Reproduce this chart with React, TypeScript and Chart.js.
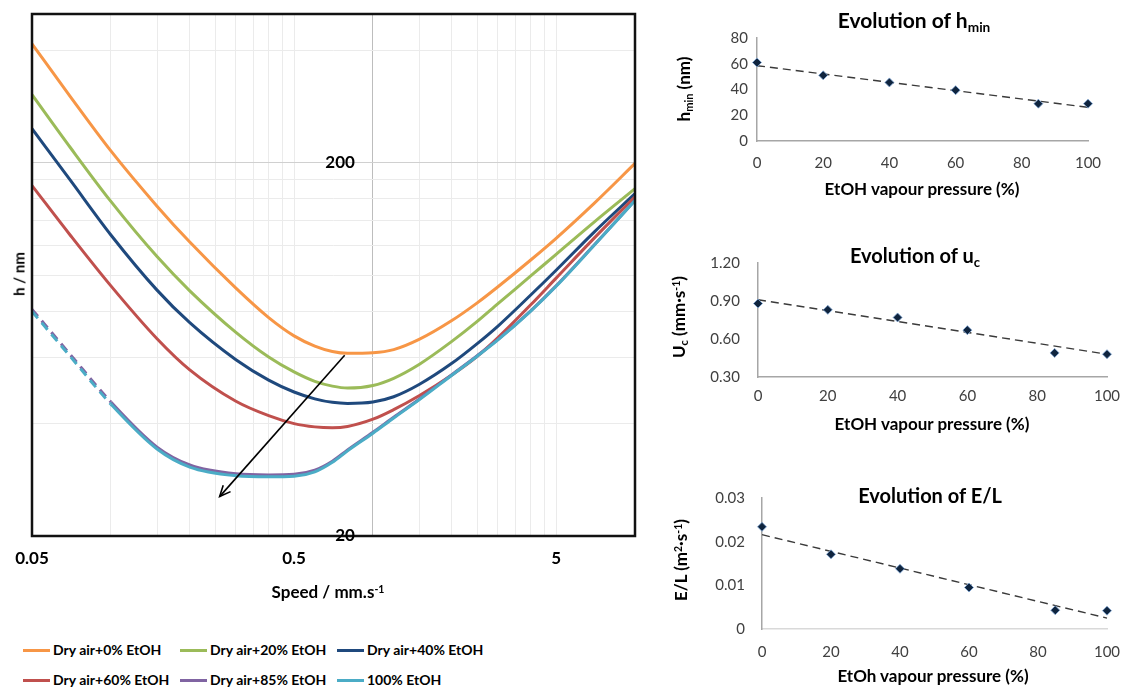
import React, { useEffect, useRef } from 'react';
import { Chart, registerables } from 'chart.js';

Chart.register(...registerables);
Chart.defaults.font.family = 'Lato, "Open Sans", sans-serif';

// ---------- main chart data ----------
const SPEED = [0.05, 0.07, 0.1, 0.15, 0.2, 0.3, 0.4, 0.5, 0.6, 0.7, 0.8, 1, 1.2, 1.5, 2, 2.5, 3, 4, 5, 7, 10];
const H_0 = [416, 300.4, 214.9, 152.9, 122.5, 92.2, 76.9, 68.7, 64.5, 62.4, 61.7, 61.9, 63.1, 67.2, 75.5, 84.2, 93, 109.7, 125.4, 155.8, 199];
const H_20 = [304, 219.5, 157.4, 112, 90.7, 70.2, 60.3, 55, 51.9, 50.4, 49.8, 50.6, 52.9, 57.6, 66.4, 75.1, 83.8, 99.4, 113.6, 138.8, 170.3];
const H_40 = [246.6, 179.4, 128, 91.1, 74.5, 59.3, 52.3, 48.6, 46.6, 45.6, 45.3, 45.7, 47.2, 50.9, 58, 65.5, 73, 88.4, 103, 130.5, 165.2];
const H_60 = [173.6, 127.8, 93.5, 67.5, 55.7, 45.9, 42, 40, 39.2, 39, 39.3, 41.1, 43.6, 47.5, 54, 60.6, 68, 83.2, 98.1, 125.7, 162];
const H_85 = [80.9, 61.2, 45.7, 34.6, 31, 29.35, 29.15, 29.25, 30, 31.7, 34, 37.9, 41.6, 46.5, 54.1, 60.8, 67.2, 80.2, 93.5, 120.5, 158.5];
const H_100 = [79.9, 60.5, 45.1, 34.2, 30.6, 29, 28.8, 28.9, 29.7, 31.5, 33.8, 37.7, 41.4, 46.3, 53.9, 60.6, 67, 80, 93.3, 120.3, 158.3];
const SERIES = [H_0, H_20, H_40, H_60, H_85, H_100];
const SERIES_LABELS = [
  'Dry air+0% EtOH',
  'Dry air+20% EtOH',
  'Dry air+40% EtOH',
  'Dry air+60% EtOH',
  'Dry air+85% EtOH',
  '100% EtOH',
];
const SERIES_DASHED_START = [false, false, false, false, true, true];
const DASH_UNTIL_SPEED = 0.1;

const X_GRID = [0.05, 0.1, 0.15, 0.2, 0.25, 0.3, 0.35, 0.4, 0.45, 0.5, 1, 1.5, 2, 2.5, 3, 3.5, 4, 4.5, 5, 10];
const X_TICK_LABELS = [0.05, 0.5, 5];
const Y_GRID = [20, 40, 60, 80, 100, 120, 140, 160, 180, 200, 400];
const Y_TICK_LABELS = [200, 20];
const Y_MAJOR = 200;
const Y_AXIS_CROSS = 1;
const ARROW_FROM = [0.78, 61];
const ARROW_TO = [0.26, 25.5];

// ---------- inset data ----------
const ETOH = [0, 20, 40, 60, 85, 100];
const HMIN = [61, 51, 45.5, 39.5, 29, 29];
const UC = [0.88, 0.83, 0.77, 0.67, 0.49, 0.48];
const EL = [0.0234, 0.0171, 0.0138, 0.0095, 0.0043, 0.0042];
const TREND_X = [0, 100];
const HMIN_TREND = [58.5, 26.2];
const UC_TREND = [0.91, 0.48];
const EL_TREND = [0.0216, 0.0025];
const PCT_TICKS = [0, 20, 40, 60, 80, 100];
const HMIN_TICKS = [0, 20, 40, 60, 80];
const UC_TICKS = [0.3, 0.6, 0.9, 1.2];
const EL_TICKS = [0, 0.01, 0.02, 0.03];

// ---------- styles ----------
const COLORS = ['#F79646', '#9BBB59', '#1F497D', '#C0504D', '#8064A2', '#4BACC6'];

const mainDecor = {
  id: 'mainDecor',
  afterDraw(chart: any) {
    const { ctx, chartArea: a, scales } = chart;
    const x = scales.x, y = scales.y;
    ctx.save();
    ctx.setLineDash([]);
    // arrow
    const x0 = x.getPixelForValue(ARROW_FROM[0]);
    const y0 = y.getPixelForValue(ARROW_FROM[1]);
    const x1 = x.getPixelForValue(ARROW_TO[0]);
    const y1 = y.getPixelForValue(ARROW_TO[1]);
    ctx.strokeStyle = '#000';
    ctx.lineWidth = 1.6;
    ctx.beginPath();
    ctx.moveTo(x0, y0);
    ctx.lineTo(x1, y1);
    ctx.stroke();
    const ang = Math.atan2(y1 - y0, x1 - x0);
    const L = 12, w = 0.42;
    ctx.beginPath();
    ctx.moveTo(x1 - L * Math.cos(ang - w), y1 - L * Math.sin(ang - w));
    ctx.lineTo(x1, y1);
    ctx.lineTo(x1 - L * Math.cos(ang + w), y1 - L * Math.sin(ang + w));
    ctx.stroke();
    // frame
    ctx.strokeStyle = '#111';
    ctx.lineWidth = 2.5;
    ctx.beginPath();
    ctx.rect(a.left, a.top, a.right - a.left, a.bottom - a.top);
    ctx.stroke();
    // y tick labels at the axis crossing
    ctx.fillStyle = '#000';
    ctx.font = 'bold 17px Lato';
    ctx.textAlign = 'right';
    ctx.textBaseline = 'middle';
    const lx = x.getPixelForValue(Y_AXIS_CROSS) - 18;
    Y_TICK_LABELS.forEach((v) => ctx.fillText(String(v), lx, y.getPixelForValue(v)));
    ctx.restore();
  },
};

function MainChart() {
  const ref = useRef<HTMLCanvasElement>(null);
  useEffect(() => {
    const datasets = SERIES.map((vals, i) => ({
      label: SERIES_LABELS[i],
      data: SPEED.map((s, j) => ({ x: s, y: vals[j] })),
      borderColor: COLORS[i],
      backgroundColor: COLORS[i],
      borderWidth: 3,
      pointRadius: 0,
      cubicInterpolationMode: 'monotone' as const,
      order: SERIES.length - i,
      segment: SERIES_DASHED_START[i]
        ? { borderDash: (c: any) => (c.p1.parsed.x <= DASH_UNTIL_SPEED + 1e-9 ? [9, 6] : undefined) }
        : undefined,
    }));
    const chart = new Chart(ref.current!, {
      type: 'line',
      data: { datasets },
      plugins: [mainDecor],
      options: {
        animation: false,
        responsive: false,
        layout: { padding: { top: 14, right: 5, left: 0, bottom: 0 } },
        plugins: { legend: { display: false }, tooltip: { enabled: false } },
        scales: {
          x: {
            type: 'logarithmic',
            min: 0.05,
            max: 10,
            afterBuildTicks: (s: any) => {
              s.ticks = X_GRID.map((v) => ({ value: v }));
            },
            afterFit: (s: any) => {
              s.height = 74;
            },
            grid: {
              drawTicks: true,
              tickLength: 12,
              tickColor: 'rgba(0,0,0,0)',
              color: (c: any) => (c.tick && c.tick.value === Y_AXIS_CROSS ? '#bdbdbd' : '#ebebeb'),
              lineWidth: 1,
            },
            border: { display: false },
            ticks: {
              autoSkip: false,
              maxRotation: 0,
              padding: 0,
              color: '#000',
              font: { size: 17, weight: 'bold' },
              callback: (v: any) => (X_TICK_LABELS.includes(Number(v)) ? String(v) : ''),
            },
          },
          y: {
            type: 'logarithmic',
            min: 20,
            max: 500,
            afterBuildTicks: (s: any) => {
              s.ticks = Y_GRID.map((v) => ({ value: v }));
            },
            afterFit: (s: any) => {
              s.width = 32;
            },
            grid: {
              drawTicks: false,
              color: (c: any) => (c.tick && c.tick.value === Y_MAJOR ? '#d0d0d0' : '#ebebeb'),
            },
            border: { display: false },
            ticks: { display: false },
          },
        },
      },
    } as any);
    return () => chart.destroy();
  }, []);
  return <canvas ref={ref} width={640} height={610} style={{ position: 'absolute', left: 0, top: 0, width: 640, height: 610 }} />;
}

type SmallCfg = {
  top: number;
  height: number;
  padTop: number;
  yWidth: number;
  padRight: number;
  xHeight: number;
  values: number[];
  trend: number[];
  yTicks: number[];
  fmt: (v: number) => string;
  yPad: number;
  xPad: number;
  xBorder: string;
};

const SMALL: SmallCfg[] = [
  { top: 0, height: 205, padTop: 38, yWidth: 117, padRight: 35, xHeight: 64, values: HMIN, trend: HMIN_TREND, yTicks: HMIN_TICKS, fmt: (v) => String(v), yPad: 9, xPad: 13, xBorder: '#a6a6a6' },
  { top: 230, height: 215, padTop: 33, yWidth: 118, padRight: 16, xHeight: 68, values: UC, trend: UC_TREND, yTicks: UC_TICKS, fmt: (v) => v.toFixed(2), yPad: 18, xPad: 10, xBorder: '#a6a6a6' },
  { top: 470, height: 219, padTop: 28, yWidth: 122, padRight: 16, xHeight: 60, values: EL, trend: EL_TREND, yTicks: EL_TICKS, fmt: (v) => (v === 0 ? '0' : v.toFixed(2)), yPad: 17, xPad: 14, xBorder: '#d9d9d9' },
];

function SmallChart({ cfg }: { cfg: SmallCfg }) {
  const ref = useRef<HTMLCanvasElement>(null);
  useEffect(() => {
    const yMin = cfg.yTicks[0];
    const yMax = cfg.yTicks[cfg.yTicks.length - 1];
    const chart = new Chart(ref.current!, {
      type: 'scatter',
      data: {
        datasets: [
          {
            data: ETOH.map((x, i) => ({ x, y: cfg.values[i] })),
            pointStyle: 'rectRot',
            pointRadius: 4.5,
            backgroundColor: '#0F243E',
            borderColor: '#7FA6D6',
            borderWidth: 0.8,
            clip: false,
            order: 1,
          },
          {
            data: TREND_X.map((x, i) => ({ x, y: cfg.trend[i] })),
            showLine: true,
            borderColor: '#3a3a3a',
            borderWidth: 1.4,
            borderDash: [8, 5],
            pointRadius: 0,
            clip: false,
            order: 2,
          },
        ],
      },
      options: {
        animation: false,
        responsive: false,
        layout: { padding: { top: cfg.padTop, right: cfg.padRight, left: 0, bottom: 0 } },
        plugins: { legend: { display: false }, tooltip: { enabled: false } },
        scales: {
          x: {
            type: 'linear',
            min: 0,
            max: 100,
            afterBuildTicks: (s: any) => {
              s.ticks = PCT_TICKS.map((v) => ({ value: v }));
            },
            afterFit: (s: any) => {
              s.height = cfg.xHeight;
            },
            grid: { display: false, drawTicks: true, tickLength: cfg.xPad, tickColor: 'rgba(0,0,0,0)' },
            border: { display: true, color: cfg.xBorder, width: 1.5 },
            ticks: { padding: 0, color: '#404040', font: { size: 15 }, maxRotation: 0, autoSkip: false },
          },
          y: {
            type: 'linear',
            min: yMin,
            max: yMax,
            afterBuildTicks: (s: any) => {
              s.ticks = cfg.yTicks.map((v) => ({ value: v }));
            },
            afterFit: (s: any) => {
              s.width = cfg.yWidth;
            },
            grid: { display: false, drawTicks: false },
            border: { display: true, color: '#a6a6a6', width: 1.5 },
            ticks: { padding: cfg.yPad, color: '#404040', font: { size: 15 }, callback: (v: any) => cfg.fmt(Number(v)) },
          },
        },
      },
    } as any);
    return () => chart.destroy();
  }, [cfg]);
  return (
    <canvas
      ref={ref}
      width={483}
      height={cfg.height}
      style={{ position: 'absolute', left: 640, top: cfg.top, width: 483, height: cfg.height }}
    />
  );
}

const Sub = ({ children }: { children: React.ReactNode }) => (
  <span style={{ fontSize: '0.65em', position: 'relative', top: '0.3em' }}>{children}</span>
);
const Sup = ({ children }: { children: React.ReactNode }) => (
  <span style={{ fontSize: '0.62em', position: 'relative', top: '-0.45em' }}>{children}</span>
);

function Lbl({ x, y, size, rotate, children }: { x: number; y: number; size: number; rotate?: boolean; children: React.ReactNode }) {
  return (
    <div
      style={{
        position: 'absolute',
        left: x,
        top: y,
        transform: `translate(-50%, -50%)${rotate ? ' rotate(-90deg)' : ''}`,
        fontSize: size,
        fontWeight: 700,
        whiteSpace: 'nowrap',
        lineHeight: 1,
        color: '#000',
      }}
    >
      {children}
    </div>
  );
}

const LEGEND_COLS = [23, 180, 337];
const LEGEND_ROWS = [650, 680];

export default function App() {
  return (
    <div
      style={{
        position: 'fixed',
        left: 0,
        top: 0,
        width: 1123,
        height: 689,
        background: '#fff',
        overflow: 'hidden',
        fontFamily: 'Lato, "Open Sans", sans-serif',
      }}
    >
      <MainChart />
      {SMALL.map((c, i) => (
        <SmallChart key={i} cfg={c} />
      ))}

      {/* main chart texts */}
      <Lbl x={19} y={274} size={15} rotate>
        h / nm
      </Lbl>
      <Lbl x={328} y={591} size={17}>
        Speed / mm.s<Sup>-1</Sup>
      </Lbl>

      {/* legend */}
      {SERIES_LABELS.map((lab, i) => (
        <div
          key={lab}
          style={{
            position: 'absolute',
            left: LEGEND_COLS[i % 3],
            top: LEGEND_ROWS[Math.floor(i / 3)],
            transform: 'translateY(-50%)',
            display: 'flex',
            alignItems: 'center',
            whiteSpace: 'nowrap',
          }}
        >
          <span style={{ display: 'inline-block', width: 27, height: 3, background: COLORS[i] }} />
          <span style={{ marginLeft: 3, fontSize: 14, fontWeight: 700, color: '#000', lineHeight: 1 }}>{lab}</span>
        </div>
      ))}

      {/* inset 1 */}
      <Lbl x={914} y={20} size={21}>
        Evolution of h<Sub>min</Sub>
      </Lbl>
      <Lbl x={683} y={89} size={17} rotate>
        h<Sub>min</Sub> (nm)
      </Lbl>
      <Lbl x={922} y={188} size={17}>
        EtOH vapour pressure (%)
      </Lbl>

      {/* inset 2 */}
      <Lbl x={915} y={255} size={20}>
        Evolution of u<Sub>c</Sub>
      </Lbl>
      <Lbl x={678} y={317} size={17} rotate>
        U<Sub>c</Sub> (mm·s<Sup>-1</Sup>)
      </Lbl>
      <Lbl x={932} y={423} size={17}>
        EtOH vapour pressure (%)
      </Lbl>

      {/* inset 3 */}
      <Lbl x={930} y={495} size={20}>
        Evolution of E/L
      </Lbl>
      <Lbl x={680} y={560} size={17} rotate>
        E/L (m<Sup>2</Sup>·s<Sup>-1</Sup>)
      </Lbl>
      <Lbl x={933} y={675} size={17}>
        EtOh vapour pressure (%)
      </Lbl>
    </div>
  );
}
